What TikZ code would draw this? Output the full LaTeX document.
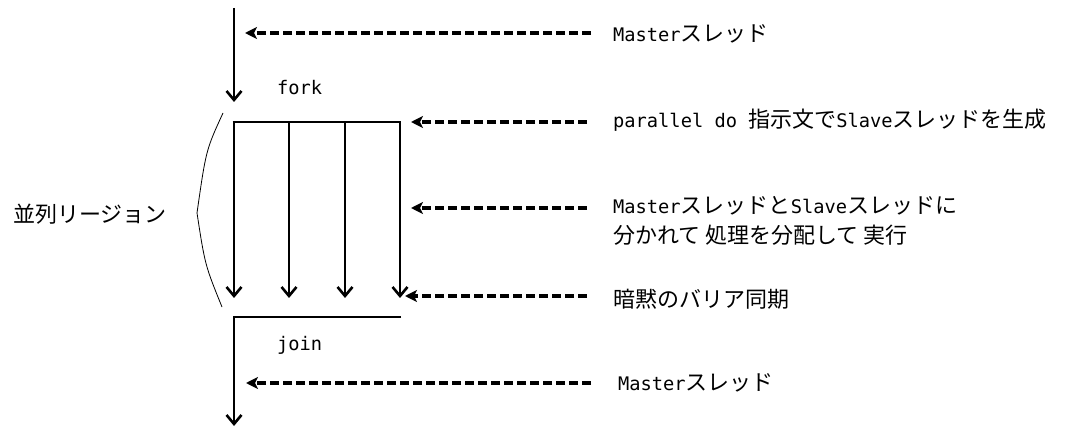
\documentclass[tikz,border=0pt]{standalone}
\usepackage{fontspec}
\setmainfont{Noto Sans CJK JP}
\newfontfamily\lat{DejaVu Sans Mono}[Scale=0.85]
\usetikzlibrary{arrows.meta}
\tikzset{
  thread/.style={line width=2.6pt, -{Straight Barb[length=9pt,width=15pt,line width=2.6pt]}},
  solidline/.style={line width=2.6pt},
  hint/.style={line width=3.5pt, dash pattern=on 9pt off 4pt, -{Stealth[length=12pt,width=12pt,inset=3pt]}},
  lbl/.style={anchor=west, inner sep=0pt, font=\fontsize{22}{30}\selectfont, align=left},
  brace/.style={line width=0.8pt}
}
\begin{document}
\begin{tikzpicture}[x=1pt,y=-1pt]
\useasboundingbox (0,0) rectangle (1091,427);
% coordinates
\coordinate (t0) at (234,8);
\coordinate (t1) at (234,102);
\coordinate (f1) at (234,122);
\coordinate (f2) at (289,122);
\coordinate (f3) at (345,122);
\coordinate (f4) at (400,122);
\coordinate (e1) at (234,298);
\coordinate (e2) at (289,298);
\coordinate (e3) at (345,298);
\coordinate (e4) at (400,298);
\coordinate (j4) at (401,317);
\coordinate (j1) at (234,317);
\coordinate (jb) at (234,426);
% labels
\node[lbl] (m1) at (613,34) {{\lat Master}スレッド};
\node[lbl] (pd) at (613,120) {{\lat parallel do }指示文で{\lat Slave}スレッドを生成};
\node[lbl] (ms) at (613,221) {{\lat Master}スレッドと{\lat Slave}スレッドに\\分かれて 処理を分配して 実行};
\node[lbl] (bar) at (613,299) {暗黙のバリア同期};
\node[lbl] (m2) at (618,383) {{\lat Master}スレッド};
\node[lbl] (fork) at (277,88) {\lat fork};
\node[lbl] (join) at (277,345) {\lat join};
\node[lbl] (reg) at (13,214) {並列リージョン};
% dashed start points
\coordinate (d1s) at (591,33);  \coordinate (d1e) at (245,33);
\coordinate (d2s) at (587,122); \coordinate (d2e) at (411,122);
\coordinate (d3s) at (587,208); \coordinate (d3e) at (411,208);
\coordinate (d4s) at (587,296); \coordinate (d4e) at (405,296);
\coordinate (d5s) at (591,383); \coordinate (d5e) at (246,383);
% threads
\draw[thread] (t0) -- (t1);
\draw[solidline] ([xshift=-1.3pt]f1) -- ([xshift=1.3pt]f4);
\draw[thread] (f1) -- (e1);
\draw[thread] (f2) -- (e2);
\draw[thread] (f3) -- (e3);
\draw[thread] (f4) -- (e4);
\draw[solidline] (j4) -- ([xshift=-1.3pt]j1);
\draw[thread] ([yshift=-1.3pt]j1) -- (jb);
% hints
\draw[hint] (d1s) -- (d1e);
\draw[hint] (d2s) -- (d2e);
\draw[hint] (d3s) -- (d3e);
\draw[hint] (d4s) -- (d4e);
\draw[hint] (d5s) -- (d5e);
% brace
\coordinate (b1) at (223,113);
\coordinate (b2) at (197,213);
\coordinate (b3) at (222,307);
\draw[brace] (b1) .. controls (206,150) .. (b2) .. controls (205,265) .. (b3);
\end{tikzpicture}
\end{document}
